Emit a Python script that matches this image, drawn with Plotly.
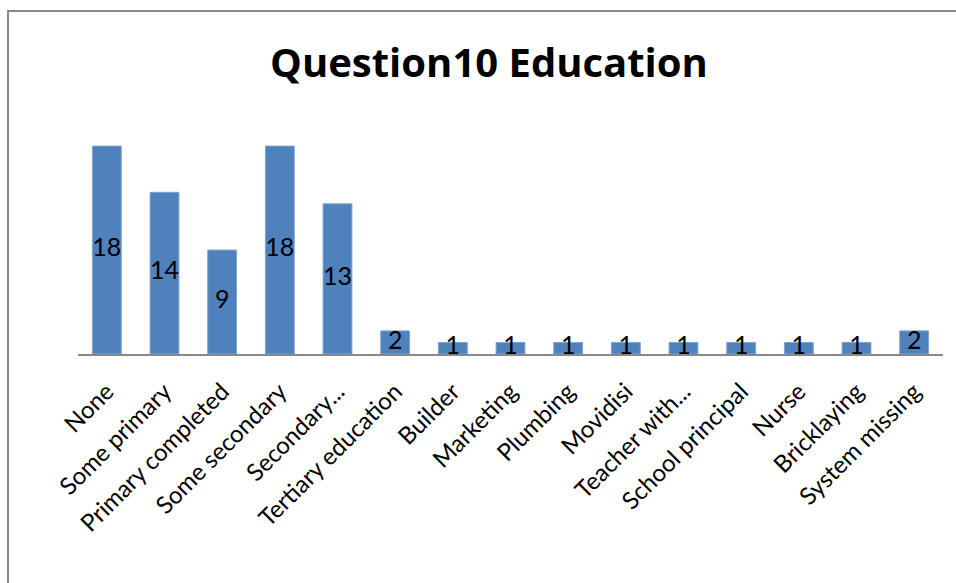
import plotly.graph_objects as go

categories = [
    "None", "Some primary", "Primary completed", "Some secondary", "Secondary...",
    "Tertiary education", "Builder", "Marketing", "Plumbing", "Movidisi",
    "Teacher with...", "School principal", "Nurse", "Bricklaying", "System missing",
]
counts = [18, 14, 9, 18, 13, 2, 1, 1, 1, 1, 1, 1, 1, 1, 2]

W, H = 956, 583
ML, MR, MT, MB = 78, 13, 123, 229
plot_w = W - ML - MR
plot_h = H - MT - MB

fig = go.Figure()
fig.add_trace(go.Bar(
    x=categories, y=counts, width=0.5,
    marker=dict(color="#4F81BD", line=dict(color="#7FA3D3", width=1)),
    hoverinfo="x+y",
))
# value labels centred on each bar's mid-height
fig.add_trace(go.Scatter(
    x=categories, y=[v / 2 for v in counts], mode="text",
    text=[str(v) for v in counts], textposition="middle center",
    textfont=dict(family="Lato, sans-serif", size=25, color="#000000"),
    hoverinfo="skip", cliponaxis=False,
))

def px_to_paper_x(px):
    return (px - ML) / plot_w

def px_to_paper_y(py):
    return (H - MB - py) / plot_h

fig.add_shape(type="rect", xref="paper", yref="paper",
              x0=px_to_paper_x(8), x1=px_to_paper_x(W + 20),
              y0=px_to_paper_y(H + 20), y1=px_to_paper_y(11),
              line=dict(color="#888888", width=2), layer="below")

fig.update_layout(
    width=W, height=H,
    margin=dict(l=ML, r=MR, t=MT, b=MB, autoexpand=False),
    paper_bgcolor="white", plot_bgcolor="white",
    showlegend=False,
    title=dict(text="<b>Question10 Education</b>", x=489 / W, xanchor="center",
               y=1 - 63 / H, yanchor="middle",
               font=dict(family="Open Sans, sans-serif", size=40, color="#000000")),
    bargap=0.5,
)
fig.update_xaxes(range=[-0.5, len(categories) - 0.5],
                 showline=True, linecolor="#888888", linewidth=2, tickangle=-45,
                 ticks="", showgrid=False, zeroline=False, automargin=False,
                 ticklabelstandoff=12,
                 tickfont=dict(family="Lato, sans-serif", size=24, color="#000000"))
fig.update_yaxes(range=[0, 20], visible=False, showgrid=False, zeroline=False)

fig.write_html("out.html")
